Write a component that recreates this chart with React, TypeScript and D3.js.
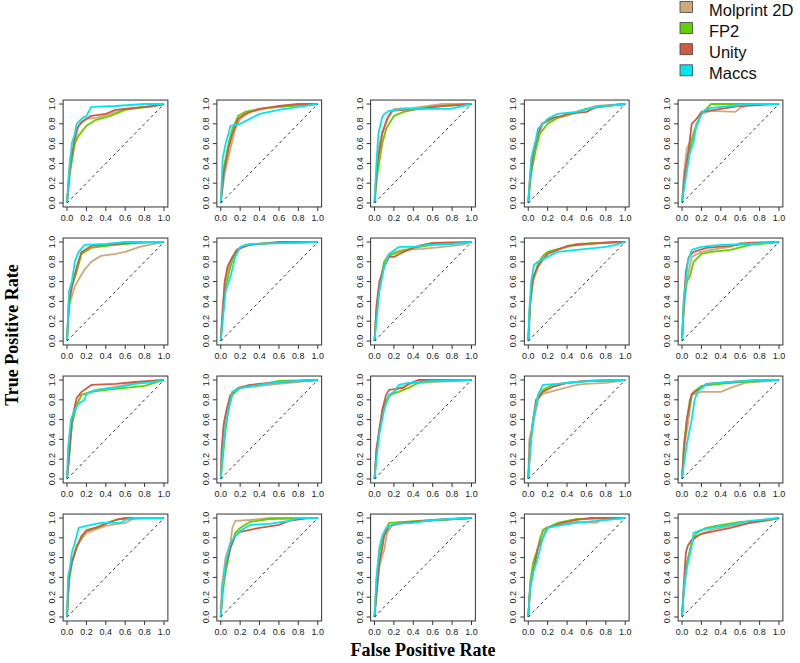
import React from "react";
import * as d3 from "d3";

type Pt = [number, number];

const methods = ["Molprint 2D", "FP2", "Unity", "Maccs"];
const colors = ["#CDAA7D", "#66CD00", "#CD5B45", "#00E5EE"];
const tickValues = [0, 0.2, 0.4, 0.6, 0.8, 1.0];
const xTitle = "False Positive Rate";
const yTitle = "True Positive Rate";

// ROC curves per panel (row-major, 4 rows x 5 cols)
const molprint: Pt[][] = [
  [[0,0],[0.03,0.45],[0.08,0.6],[0.12,0.78],[0.2,0.85],[0.3,0.86],[0.45,0.9],[0.6,0.95],[0.9,0.98],[1,1]],
  [[0,0],[0.04,0.3],[0.1,0.55],[0.15,0.75],[0.2,0.85],[0.3,0.92],[0.5,0.96],[0.8,0.99],[1,1]],
  [[0,0],[0.03,0.5],[0.08,0.72],[0.15,0.88],[0.2,0.95],[0.4,0.96],[0.7,1.0],[1,1]],
  [[0,0],[0.02,0.3],[0.06,0.5],[0.1,0.65],[0.15,0.8],[0.25,0.85],[0.4,0.88],[0.5,0.92],[0.7,0.98],[1,1]],
  [[0,0],[0.02,0.3],[0.05,0.55],[0.1,0.65],[0.15,0.8],[0.2,0.9],[0.3,0.93],[0.55,0.92],[0.6,0.96],[0.7,1.0],[1,1]],
  [[0,0],[0.02,0.35],[0.05,0.45],[0.08,0.55],[0.12,0.62],[0.18,0.72],[0.25,0.8],[0.35,0.86],[0.5,0.88],[0.6,0.9],[0.75,0.95],[0.9,0.98],[1,1]],
  [[0,0],[0.02,0.35],[0.06,0.65],[0.1,0.8],[0.16,0.92],[0.3,0.98],[1,1]],
  [[0,0],[0.02,0.3],[0.05,0.55],[0.1,0.8],[0.15,0.88],[0.3,0.92],[0.5,0.93],[0.7,0.95],[0.9,0.97],[1,1]],
  [[0,0],[0.02,0.35],[0.05,0.6],[0.1,0.75],[0.15,0.85],[0.2,0.9],[0.3,0.92],[0.45,0.96],[0.7,0.99],[1,1]],
  [[0,0],[0.02,0.3],[0.05,0.6],[0.1,0.85],[0.2,0.9],[0.3,0.92],[0.5,0.95],[0.6,0.99],[1,1]],
  [[0,0],[0.02,0.3],[0.06,0.6],[0.1,0.75],[0.15,0.85],[0.3,0.9],[0.5,0.93],[0.7,0.97],[1,1]],
  [[0,0],[0.01,0.3],[0.04,0.6],[0.07,0.72],[0.12,0.88],[0.2,0.92],[0.4,0.94],[0.7,0.97],[1,1]],
  [[0,0],[0.02,0.3],[0.06,0.55],[0.1,0.72],[0.15,0.83],[0.25,0.92],[0.4,0.97],[0.6,0.98],[1,1]],
  [[0,0],[0.01,0.4],[0.05,0.55],[0.1,0.8],[0.15,0.86],[0.3,0.9],[0.5,0.95],[0.6,0.96],[0.8,0.97],[1,1]],
  [[0,0],[0.02,0.3],[0.06,0.55],[0.1,0.85],[0.2,0.88],[0.4,0.88],[0.5,0.92],[0.65,0.97],[1,1]],
  [[0,0],[0.02,0.4],[0.05,0.55],[0.1,0.72],[0.2,0.85],[0.4,0.92],[0.6,0.95],[0.7,1.0],[1,1]],
  [[0,0],[0.01,0.3],[0.05,0.6],[0.1,0.75],[0.12,0.9],[0.15,0.97],[0.3,0.98],[0.5,1.0],[1,1]],
  [[0,0],[0.02,0.3],[0.05,0.5],[0.08,0.62],[0.1,0.68],[0.13,0.85],[0.2,0.95],[0.4,0.96],[0.7,0.98],[1,1]],
  [[0,0],[0.02,0.3],[0.06,0.5],[0.12,0.8],[0.18,0.9],[0.3,0.93],[0.5,0.96],[0.7,0.95],[0.75,0.98],[1,1]],
  [[0,0],[0.02,0.25],[0.05,0.5],[0.1,0.75],[0.15,0.82],[0.3,0.88],[0.5,0.92],[0.7,0.95],[1,1]],
];

const fp2: Pt[][] = [
  [[0,0],[0.03,0.3],[0.08,0.6],[0.12,0.68],[0.2,0.78],[0.3,0.84],[0.45,0.88],[0.6,0.94],[0.9,0.98],[1,1]],
  [[0,0],[0.03,0.35],[0.08,0.6],[0.12,0.75],[0.18,0.88],[0.25,0.92],[0.4,0.95],[0.6,0.97],[1,1]],
  [[0,0],[0.03,0.3],[0.08,0.6],[0.12,0.75],[0.2,0.88],[0.3,0.92],[0.5,0.96],[0.7,0.98],[1,1]],
  [[0,0],[0.03,0.3],[0.08,0.55],[0.12,0.7],[0.2,0.8],[0.3,0.86],[0.5,0.92],[0.6,0.95],[0.9,0.99],[1,1]],
  [[0,0],[0.03,0.3],[0.07,0.5],[0.12,0.7],[0.2,0.9],[0.3,1.0],[1,1]],
  [[0,0],[0.02,0.35],[0.05,0.55],[0.1,0.7],[0.15,0.88],[0.25,0.94],[0.4,0.96],[0.7,0.99],[1,1]],
  [[0,0],[0.02,0.25],[0.05,0.55],[0.1,0.75],[0.15,0.9],[0.25,0.97],[0.5,0.99],[1,1]],
  [[0,0],[0.02,0.3],[0.06,0.6],[0.1,0.8],[0.15,0.86],[0.25,0.9],[0.4,0.94],[0.6,0.97],[1,1]],
  [[0,0],[0.02,0.4],[0.05,0.62],[0.1,0.78],[0.15,0.86],[0.2,0.9],[0.35,0.94],[0.5,0.98],[1,1]],
  [[0,0],[0.02,0.45],[0.05,0.6],[0.08,0.65],[0.12,0.8],[0.2,0.88],[0.3,0.9],[0.5,0.92],[0.7,0.97],[1,1]],
  [[0,0],[0.02,0.2],[0.05,0.55],[0.1,0.75],[0.15,0.85],[0.25,0.88],[0.4,0.9],[0.6,0.92],[0.8,0.94],[0.9,0.97],[1,1]],
  [[0,0],[0.02,0.2],[0.05,0.5],[0.08,0.7],[0.12,0.85],[0.2,0.92],[0.4,0.95],[0.6,0.99],[1,1]],
  [[0,0],[0.02,0.25],[0.05,0.5],[0.1,0.75],[0.15,0.85],[0.25,0.88],[0.35,0.92],[0.45,0.97],[0.6,0.99],[1,1]],
  [[0,0],[0.02,0.3],[0.05,0.6],[0.1,0.82],[0.15,0.9],[0.25,0.95],[0.4,0.97],[0.6,0.99],[1,1]],
  [[0,0],[0.02,0.35],[0.05,0.6],[0.08,0.8],[0.12,0.88],[0.2,0.94],[0.4,0.96],[0.6,0.98],[1,1]],
  [[0,0],[0.02,0.35],[0.05,0.55],[0.1,0.72],[0.2,0.88],[0.3,0.9],[0.4,0.95],[0.55,0.99],[1,1]],
  [[0,0],[0.02,0.25],[0.05,0.45],[0.1,0.7],[0.15,0.85],[0.2,0.9],[0.3,0.96],[0.5,0.99],[1,1]],
  [[0,0],[0.02,0.35],[0.05,0.65],[0.1,0.85],[0.15,0.95],[0.3,0.96],[0.6,0.98],[1,1]],
  [[0,0],[0.02,0.35],[0.05,0.55],[0.1,0.7],[0.15,0.88],[0.3,0.95],[0.5,0.99],[1,1]],
  [[0,0],[0.02,0.3],[0.05,0.55],[0.1,0.75],[0.15,0.85],[0.25,0.9],[0.35,0.92],[0.6,0.96],[0.9,0.98],[1,1]],
];

const unity: Pt[][] = [
  [[0,0],[0.03,0.35],[0.07,0.6],[0.1,0.75],[0.15,0.82],[0.25,0.88],[0.4,0.9],[0.5,0.94],[0.7,0.96],[0.9,0.98],[1,1]],
  [[0,0],[0.03,0.3],[0.08,0.55],[0.12,0.7],[0.18,0.85],[0.25,0.9],[0.4,0.95],[0.6,0.98],[0.8,1.0],[1,1]],
  [[0,0],[0.03,0.4],[0.08,0.7],[0.13,0.85],[0.18,0.93],[0.3,0.94],[0.5,0.95],[0.6,0.97],[0.85,0.99],[1,1]],
  [[0,0],[0.02,0.25],[0.05,0.5],[0.1,0.7],[0.14,0.8],[0.25,0.86],[0.35,0.88],[0.4,0.9],[0.6,0.92],[0.7,0.97],[1,1]],
  [[0,0],[0.03,0.3],[0.07,0.55],[0.1,0.8],[0.15,0.85],[0.2,0.92],[0.4,0.95],[0.6,0.98],[1,1]],
  [[0,0],[0.02,0.4],[0.05,0.55],[0.1,0.75],[0.15,0.9],[0.25,0.96],[0.5,0.98],[0.75,1.0],[1,1]],
  [[0,0],[0.02,0.3],[0.04,0.6],[0.07,0.75],[0.12,0.85],[0.18,0.93],[0.3,0.97],[0.6,1.0],[1,1]],
  [[0,0],[0.02,0.35],[0.05,0.6],[0.1,0.75],[0.15,0.85],[0.2,0.85],[0.3,0.9],[0.45,0.96],[0.6,0.99],[1,1]],
  [[0,0],[0.02,0.4],[0.05,0.65],[0.1,0.75],[0.15,0.82],[0.2,0.88],[0.3,0.92],[0.4,0.96],[0.6,0.98],[0.9,1.0],[1,1]],
  [[0,0],[0.02,0.4],[0.04,0.7],[0.07,0.85],[0.12,0.9],[0.25,0.94],[0.5,0.96],[0.7,0.99],[1,1]],
  [[0,0],[0.02,0.2],[0.05,0.6],[0.1,0.82],[0.15,0.88],[0.25,0.95],[0.5,0.96],[0.7,0.98],[1,1]],
  [[0,0],[0.01,0.3],[0.03,0.55],[0.06,0.7],[0.1,0.85],[0.18,0.92],[0.3,0.95],[0.5,0.97],[0.8,0.99],[1,1]],
  [[0,0],[0.02,0.3],[0.05,0.5],[0.08,0.7],[0.12,0.85],[0.15,0.9],[0.3,0.92],[0.35,0.96],[0.45,1.0],[1,1]],
  [[0,0],[0.02,0.35],[0.05,0.6],[0.08,0.8],[0.15,0.88],[0.25,0.93],[0.4,0.97],[0.6,0.99],[1,1]],
  [[0,0],[0.02,0.3],[0.05,0.6],[0.08,0.75],[0.1,0.86],[0.2,0.92],[0.25,0.96],[0.5,0.98],[0.8,1.0],[1,1]],
  [[0,0],[0.02,0.4],[0.05,0.55],[0.1,0.7],[0.15,0.82],[0.2,0.87],[0.35,0.92],[0.5,0.98],[0.6,1.0],[1,1]],
  [[0,0],[0.02,0.3],[0.05,0.5],[0.1,0.7],[0.15,0.82],[0.2,0.86],[0.35,0.89],[0.4,0.9],[0.6,0.93],[0.7,0.97],[0.9,1.0],[1,1]],
  [[0,0],[0.02,0.2],[0.05,0.55],[0.08,0.7],[0.1,0.82],[0.15,0.92],[0.3,0.95],[0.5,0.97],[0.8,0.99],[1,1]],
  [[0,0],[0.02,0.3],[0.05,0.45],[0.1,0.7],[0.15,0.8],[0.2,0.9],[0.35,0.95],[0.5,0.98],[0.65,1.0],[1,1]],
  [[0,0],[0.02,0.35],[0.04,0.65],[0.06,0.72],[0.1,0.78],[0.2,0.84],[0.3,0.86],[0.5,0.9],[0.7,0.95],[0.9,0.98],[1,1]],
];

const maccs: Pt[][] = [
  [[0,0],[0.02,0.3],[0.05,0.6],[0.08,0.7],[0.1,0.8],[0.15,0.85],[0.2,0.88],[0.25,0.97],[0.5,0.98],[0.8,1.0],[1,1]],
  [[0,0],[0.02,0.45],[0.05,0.6],[0.08,0.7],[0.1,0.78],[0.2,0.8],[0.3,0.85],[0.4,0.9],[0.6,0.94],[0.8,0.97],[1,1]],
  [[0,0],[0.02,0.4],[0.04,0.7],[0.08,0.87],[0.1,0.9],[0.15,0.93],[0.3,0.95],[0.78,0.95],[1,1]],
  [[0,0],[0.03,0.45],[0.08,0.65],[0.1,0.75],[0.15,0.8],[0.2,0.85],[0.3,0.9],[0.5,0.92],[0.7,0.97],[1,1]],
  [[0,0],[0.03,0.2],[0.08,0.5],[0.12,0.62],[0.15,0.8],[0.22,0.93],[0.3,0.96],[0.5,0.98],[0.7,1.0],[1,1]],
  [[0,0],[0.02,0.5],[0.05,0.6],[0.08,0.8],[0.12,0.9],[0.18,0.97],[0.4,0.98],[0.6,1.0],[1,1]],
  [[0,0],[0.02,0.2],[0.05,0.5],[0.1,0.65],[0.15,0.85],[0.2,0.95],[0.3,0.98],[1,1]],
  [[0,0],[0.02,0.2],[0.05,0.5],[0.1,0.75],[0.15,0.88],[0.25,0.95],[0.4,0.95],[0.55,0.97],[0.8,0.98],[1,1]],
  [[0,0],[0.01,0.3],[0.03,0.6],[0.06,0.77],[0.1,0.8],[0.2,0.85],[0.3,0.9],[0.5,0.92],[0.8,0.95],[0.9,0.97],[1,1]],
  [[0,0],[0.02,0.45],[0.04,0.6],[0.06,0.8],[0.1,0.92],[0.2,0.95],[0.4,0.97],[0.7,0.98],[1,1]],
  [[0,0],[0.01,0.3],[0.04,0.6],[0.08,0.7],[0.12,0.76],[0.18,0.8],[0.2,0.86],[0.3,0.9],[0.5,0.92],[0.7,0.96],[0.9,0.98],[1,1]],
  [[0,0],[0.02,0.25],[0.05,0.55],[0.08,0.7],[0.12,0.88],[0.2,0.92],[0.4,0.95],[0.6,0.98],[1,1]],
  [[0,0],[0.02,0.2],[0.05,0.45],[0.1,0.7],[0.15,0.85],[0.2,0.88],[0.25,0.95],[0.35,0.97],[0.6,0.99],[1,1]],
  [[0,0],[0.02,0.3],[0.05,0.6],[0.1,0.85],[0.15,0.95],[0.3,0.96],[0.5,0.98],[0.8,1.0],[1,1]],
  [[0,0],[0.02,0.15],[0.05,0.35],[0.08,0.5],[0.1,0.6],[0.13,0.8],[0.16,0.88],[0.25,0.96],[0.5,0.98],[0.8,1.0],[1,1]],
  [[0,0],[0.01,0.4],[0.03,0.5],[0.05,0.65],[0.08,0.75],[0.12,0.9],[0.2,0.92],[0.35,0.95],[0.55,0.95],[0.6,0.98],[0.7,1.0],[1,1]],
  [[0,0],[0.02,0.3],[0.05,0.55],[0.1,0.75],[0.15,0.82],[0.2,0.87],[0.3,0.93],[0.5,0.94],[0.7,0.97],[0.8,1.0],[1,1]],
  [[0,0],[0.02,0.4],[0.05,0.7],[0.08,0.82],[0.12,0.9],[0.2,0.94],[0.4,0.95],[0.6,0.98],[1,1]],
  [[0,0],[0.02,0.3],[0.05,0.45],[0.1,0.6],[0.15,0.8],[0.2,0.9],[0.3,0.92],[0.5,0.95],[0.7,0.97],[1,1]],
  [[0,0],[0.02,0.3],[0.05,0.5],[0.1,0.72],[0.12,0.85],[0.2,0.88],[0.3,0.9],[0.5,0.93],[0.7,0.97],[1,1]],
];

const series = [molprint, fp2, unity, maccs];

const W = 800;
const H = 663;
const nRows = 4;
const nCols = 5;
const colX0 = 67;
const colStep = 153.75;
const rowY1 = 104;
const rowStep = 138;
const plotW = 97;
const plotH = 99;

const fmt = d3.format(".1f");
const tickFont = "'Liberation Sans', Arial, sans-serif";
const serif = "'Liberation Serif', 'Times New Roman', serif";

function Panel({ idx }: { idx: number }) {
  const r = Math.floor(idx / nCols);
  const c = idx % nCols;
  const x0 = colX0 + c * colStep;
  const y1 = rowY1 + r * rowStep;
  const x = d3.scaleLinear().domain([0, 1]).range([x0, x0 + plotW]);
  const y = d3.scaleLinear().domain([0, 1]).range([y1 + plotH, y1]);
  const padX = plotW * 0.04;
  const padY = plotH * 0.04;
  const bx0 = x(0) - padX, bx1 = x(1) + padX;
  const by0 = y(1) - padY, by1 = y(0) + padY;
  const line = d3.line<Pt>().x((d) => x(d[0])).y((d) => y(d[1]));
  return (
    <g>
      {series.map((s, si) => (
        <path key={si} d={line(s[idx]) || ""} fill="none" stroke={colors[si]} strokeWidth={1.8} strokeLinejoin="round" />
      ))}
      <line x1={x(0)} y1={y(0)} x2={x(1)} y2={y(1)} stroke="#000" strokeWidth={0.8} strokeDasharray="3,3" />
      <rect x={bx0} y={by0} width={bx1 - bx0} height={by1 - by0} fill="none" stroke="#333" strokeWidth={1} />
      {tickValues.map((t) => (
        <g key={"x" + t}>
          <line x1={x(t)} x2={x(t)} y1={by1} y2={by1 + 4} stroke="#333" strokeWidth={1} />
          <text x={x(t)} y={by1 + 14} fontSize={9} fontFamily={tickFont} textAnchor="middle" fill="#222">{fmt(t)}</text>
        </g>
      ))}
      {tickValues.map((t) => (
        <g key={"y" + t}>
          <line x1={bx0 - 4} x2={bx0} y1={y(t)} y2={y(t)} stroke="#333" strokeWidth={1} />
          <text x={bx0 - 8} y={y(t)} fontSize={9} fontFamily={tickFont} textAnchor="middle" fill="#222"
            transform={`rotate(-90, ${bx0 - 8}, ${y(t)})`}>{fmt(t)}</text>
        </g>
      ))}
    </g>
  );
}

export default function App() {
  const panels = d3.range(nRows * nCols);
  return (
    <svg width={W} height={H} style={{ position: "absolute", left: 0, top: 0, background: "#fff" }}>
      <rect x={0} y={0} width={W} height={H} fill="#fff" />
      {panels.map((i) => <Panel key={i} idx={i} />)}
      <text x={423} y={656} fontFamily={serif} fontWeight="bold" fontSize={18} textAnchor="middle" fill="#000">{xTitle}</text>
      <text x={18} y={335} fontFamily={serif} fontWeight="bold" fontSize={18} textAnchor="middle" fill="#000"
        transform="rotate(-90, 18, 335)">{yTitle}</text>
      {methods.map((m, i) => (
        <g key={m}>
          <rect x={680} y={1.5 + i * 21.1} width={12.5} height={11} fill={colors[i]} stroke="#444" strokeWidth={0.8} />
          <text x={709} y={16 + i * 21.1} fontFamily={tickFont} fontSize={16.5} fill="#111">{m}</text>
        </g>
      ))}
    </svg>
  );
}
